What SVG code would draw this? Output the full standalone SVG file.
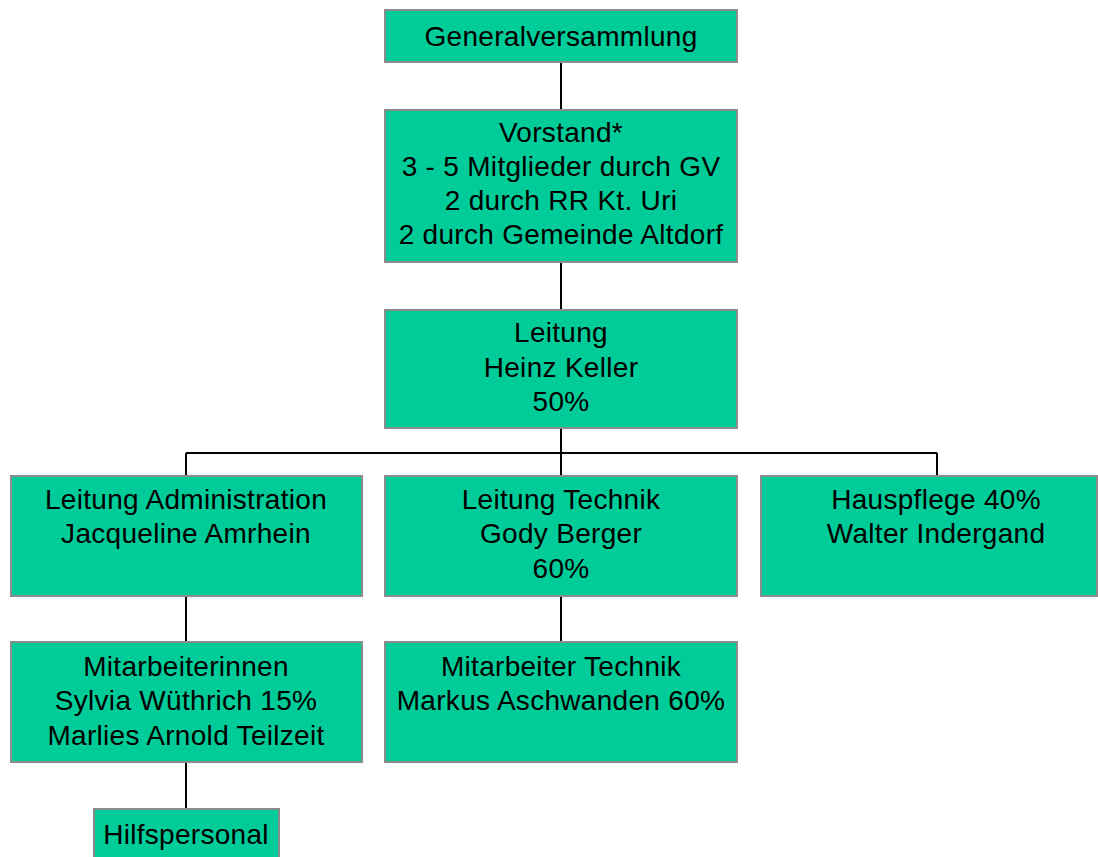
<svg xmlns="http://www.w3.org/2000/svg" width="1098" height="857" viewBox="0 0 1098 857">
<style>
.box{fill:#00CC99;stroke:#8C8C8C;stroke-width:2}
.t{font-family:"Liberation Sans",Arial,sans-serif;font-size:28px;letter-spacing:0.3px;fill:#000;text-anchor:middle}
.c{stroke:#000;stroke-width:2;fill:none}
</style>
<rect width="1098" height="857" fill="#fff"/>
<g id="connectors">
<path class="c" d="M561 62V110M561 262V310M561 428V476M186 453H937M186 453V476M937 453V476M186 596V642M561 596V642M186 762V809"/>
</g>
<g id="n1"><rect class="box" x="385" y="10" width="352" height="52"/><text class="t" x="561" y="46">Generalversammlung</text></g>
<g id="n2"><rect class="box" x="385" y="110" width="352" height="152"/><text class="t" x="561" y="142">Vorstand*</text><text class="t" x="561" y="176">3 - 5 Mitglieder durch GV</text><text class="t" x="561" y="210">2 durch RR Kt. Uri</text><text class="t" x="561" y="244">2 durch Gemeinde Altdorf</text></g>
<g id="n3"><rect class="box" x="385" y="310" width="352" height="118"/><text class="t" x="561" y="342">Leitung</text><text class="t" x="561" y="377">Heinz Keller</text><text class="t" x="561" y="411">50%</text></g>
<g id="n4"><rect class="box" x="11" y="476" width="351" height="120"/><text class="t" x="186" y="509">Leitung Administration</text><text class="t" x="186" y="543">Jacqueline Amrhein</text></g>
<g id="n5"><rect class="box" x="385" y="476" width="352" height="120"/><text class="t" x="561" y="509">Leitung Technik</text><text class="t" x="561" y="543">Gody Berger</text><text class="t" x="561" y="578">60%</text></g>
<g id="n6"><rect class="box" x="761" y="476" width="336" height="120"/><text class="t" x="936" y="509">Hauspflege 40%</text><text class="t" x="936" y="543">Walter Indergand</text></g>
<g id="n7"><rect class="box" x="11" y="642" width="351" height="120"/><text class="t" x="186" y="676">Mitarbeiterinnen</text><text class="t" x="186" y="710">Sylvia Wüthrich 15%</text><text class="t" x="186" y="745">Marlies Arnold Teilzeit</text></g>
<g id="n8"><rect class="box" x="385" y="642" width="352" height="120"/><text class="t" x="561" y="676">Mitarbeiter Technik</text><text class="t" x="561" y="710">Markus Aschwanden 60%</text></g>
<g id="n9"><rect class="box" x="94" y="809" width="185" height="52"/><text class="t" x="186" y="844">Hilfspersonal</text></g>
</svg>
